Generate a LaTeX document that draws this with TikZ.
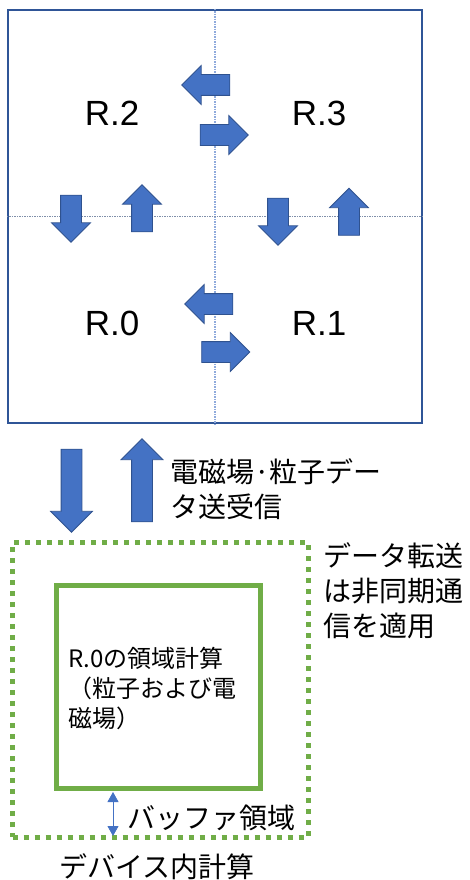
\documentclass[tikz,border=0pt]{standalone}
\usepackage{fontspec}
\setmainfont{Liberation Sans}
\newfontfamily\jpfont{Noto Sans CJK JP}
\usetikzlibrary{shapes.arrows,arrows.meta}
\definecolor{arrowfill}{HTML}{4472C4}
\definecolor{arrowline}{HTML}{2F528F}
\definecolor{boxblue}{HTML}{2F5597}
\definecolor{gridblue}{HTML}{8FAADC}
\definecolor{gridgray}{HTML}{7F8FA9}
\definecolor{greenbox}{HTML}{70AD47}
\begin{document}
\begin{tikzpicture}[x=1pt,y=-1pt,
  smallarrow/.style={single arrow, draw=arrowline, fill=arrowfill, line width=0.8pt,
    inner sep=10pt, outer sep=0pt, minimum height=48pt, minimum width=38pt,
    single arrow head extend=9pt, shape border rotate=#1},
  bigarrow/.style={single arrow, draw=arrowline, fill=arrowfill, line width=0.8pt,
    inner sep=10pt, outer sep=0pt, minimum height=83pt, minimum width=41pt,
    single arrow head extend=10.5pt, shape border rotate=#1},
  rlabel/.style={font=\fontsize{35}{38}\selectfont, inner sep=0pt},
  jptext/.style={font=\jpfont\fontsize{28}{35}\selectfont, inner sep=0pt, align=left, anchor=west},
]
\useasboundingbox (0,0) rectangle (469,880);

% outer domain box
\node[draw=boxblue, line width=2.5pt, minimum width=414pt, minimum height=413pt, inner sep=0pt] (grid) at (215,216.5) {};
\draw[gridblue, line width=1.2pt, dash pattern=on 1.5pt off 1pt] (grid.north) -- (grid.south);
\draw[gridgray, line width=1.2pt, dash pattern=on 1.5pt off 1pt] (grid.west) -- (grid.east);

% region labels
\node[rlabel] (r2) at (112,113) {R.2};
\node[rlabel] (r3) at (319,113) {R.3};
\node[rlabel] (r0) at (112,323) {R.0};
\node[rlabel] (r1) at (319,323) {R.1};

% exchange arrows
\node[smallarrow=180] (a1) at (211,85) {};
\node[smallarrow=0] (a2) at (219,135) {};
\node[smallarrow=180] (a3) at (214,304) {};
\node[smallarrow=0] (a4) at (220.5,352) {};
\node[smallarrow=270, minimum height=47pt] (a5) at (71,213.5) {};
\node[smallarrow=90, minimum height=47pt] (a6) at (142,213.5) {};
\node[smallarrow=270, minimum height=47pt] (a7) at (278,216.5) {};
\node[smallarrow=90, minimum height=47pt] (a8) at (349,217) {};

% big transfer arrows
\node[bigarrow=270] (down) at (71.5,485.5) {};
\node[bigarrow=90] (up) at (142,485.5) {};
\node[jptext] (emtext) at (170,489) {電磁場·粒子デー\\タ送受信};

% device box
\node[draw=greenbox, line width=5pt, dash pattern=on 5pt off 6pt, minimum width=295.5pt, minimum height=295pt, inner sep=0pt] (device) at (160.25,689.5) {};
\node[draw=greenbox, line width=5pt, minimum width=203.5pt, minimum height=203pt, inner sep=0pt] (inner) at (158.25,686.5) {};
\node[jptext, font=\jpfont\fontsize{24}{30}\selectfont] (innertext) at (68,689) {R.0の領域計算\\（粒子および電\\磁場）};
\node[jptext] (async) at (323,591) {データ転送\\は非同期通\\信を適用};

% buffer arrow
\coordinate (b1) at (113,792);
\coordinate (b2) at (113,836);
\draw[arrowfill, line width=0.8pt, {Triangle[width=11pt,length=10pt]}-{Triangle[width=11pt,length=10pt]}] (b1) -- (b2);
\node[jptext] (buffer) at (127,818) {バッファ領域};
\node[jptext] (devtext) at (59,867) {デバイス内計算};
\end{tikzpicture}
\end{document}
